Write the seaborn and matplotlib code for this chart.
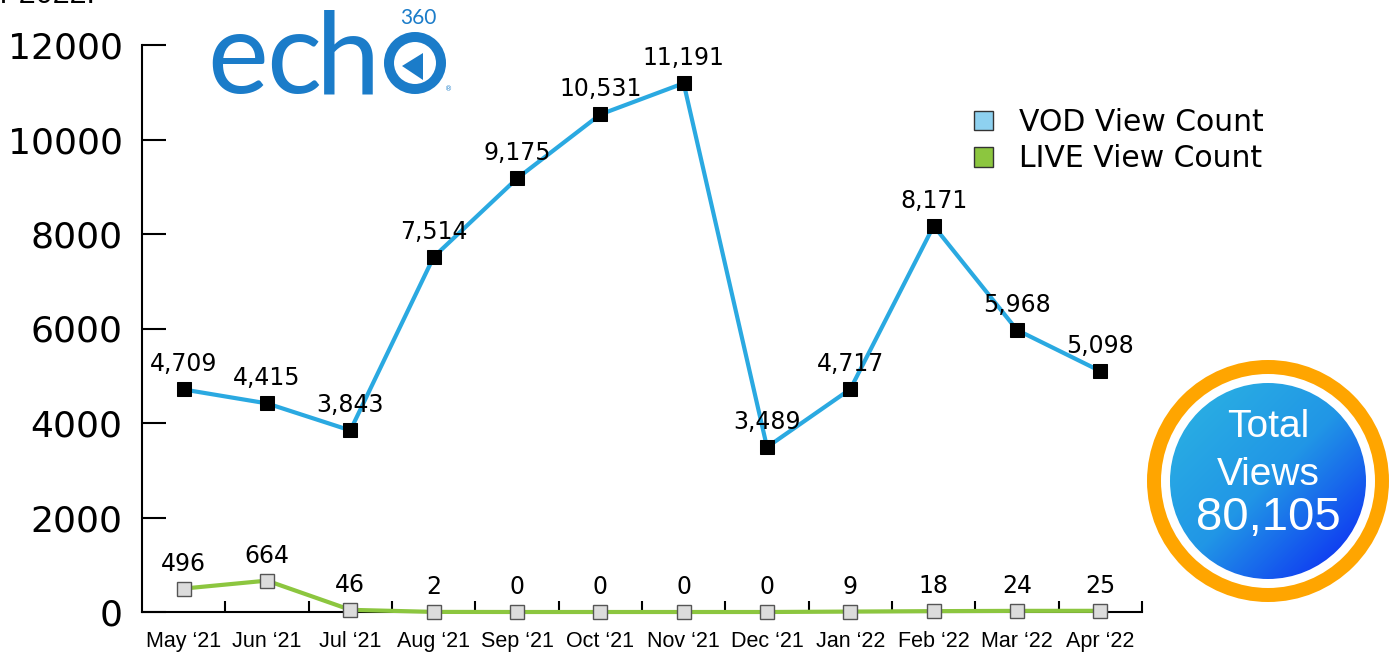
import numpy as np
import pandas as pd
import matplotlib.pyplot as plt
import seaborn as sns
from matplotlib.patches import Circle, Polygon, Patch
from matplotlib.colors import LinearSegmentedColormap

# monthly Echo360 view counts
months = ['May \u201821', 'Jun \u201821', 'Jul \u201821', 'Aug \u201821', 'Sep \u201821', 'Oct \u201821',
          'Nov \u201821', 'Dec \u201821', 'Jan \u201822', 'Feb \u201822', 'Mar \u201822', 'Apr \u201822']
vod = [4709, 4415, 3843, 7514, 9175, 10531, 11191, 3489, 4717, 8171, 5968, 5098]
live = [496, 664, 46, 2, 0, 0, 0, 0, 9, 18, 24, 25]
y_ticks = [0, 2000, 4000, 6000, 8000, 10000, 12000]
total_views = '80,105'

df = pd.DataFrame({'month': months, 'vod': vod, 'live': live})

sns.set_style('ticks')
plt.rcParams['font.family'] = ['DejaVu Sans']
plt.rcParams['text.color'] = 'black'
plt.rcParams['xtick.labelcolor'] = 'black'
plt.rcParams['ytick.labelcolor'] = 'black'

VOD_LINE = '#2aa9e1'
LIVE_LINE = '#8cc63f'
LOGO = '#1b7cc9'

W, H = 1395, 657
fig = plt.figure(figsize=(W / 100, H / 100), dpi=100)
ax = fig.add_axes([142 / W, 1 - 612 / H, 1000 / W, 567 / H])

sns.lineplot(data=df, x='month', y='vod', ax=ax, sort=False, color=VOD_LINE, lw=3,
             marker='s', ms=10, mfc='black', mec='black', clip_on=False, zorder=3)
sns.lineplot(data=df, x='month', y='live', ax=ax, sort=False, color=LIVE_LINE, lw=3,
             marker='s', ms=10, mfc='#dcdcdc', mec='#555555', mew=1, clip_on=False, zorder=3)

for i, v in enumerate(vod):
    ax.annotate(f'{v:,}', (i, v), xytext=(0, 18), textcoords='offset points',
                ha='center', va='center', fontsize=17, color='black')
for i, v in enumerate(live):
    ax.annotate(f'{v:,}', (i, v), xytext=(0, 18), textcoords='offset points',
                ha='center', va='center', fontsize=17, color='black')

ax.set_xlim(-0.5, 11.5)
ax.set_ylim(0, 12000)
ax.set_yticks(y_ticks)
ax.set_yticklabels([str(t) for t in y_ticks])
ax.set_xlabel('')
ax.set_ylabel('')
ax.set_xticks(np.arange(0.5, 12, 1), minor=True)
ax.tick_params(axis='x', which='major', length=0, pad=14, labelsize=15.5, labelfontfamily='Liberation Sans')
ax.tick_params(axis='x', which='minor', direction='in', length=8, width=1.5, color='black')
ax.tick_params(axis='y', direction='in', length=17, width=1.5, color='black', pad=14, labelsize=26)
sns.despine(ax=ax)
for s in ['left', 'bottom']:
    ax.spines[s].set_linewidth(1.5)
    ax.spines[s].set_color('black')

handles = [Patch(facecolor='#8ed1f0', edgecolor='#333333', label='VOD View Count'),
           Patch(facecolor='#8cc63f', edgecolor='#333333', label='LIVE View Count')]
fig.legend(handles=handles, loc='upper left', bbox_to_anchor=(974 / W, 1 - 108 / H),
           bbox_transform=fig.transFigure, frameon=False, fontsize=21.5, borderpad=0,
           borderaxespad=0, handlelength=0.62, handleheight=0.62, handletextpad=0.9,
           labelspacing=0.25)

# overlay in pixel coordinates for logo and badge
ov = fig.add_axes([0, 0, 1, 1], zorder=5)
ov.set_xlim(0, W)
ov.set_ylim(H, 0)
ov.axis('off')

# cut-off text at the very top
ov.text(0, 3, 'r 2022.', fontsize=22, fontfamily='Liberation Sans', va='baseline', ha='left')

# echo360 logo
for ch, cx in zip('ech', [237.5, 293.5, 348.5]):
    ov.text(cx, 93, ch, fontfamily='Lato', fontsize=83, color=LOGO, ha='center', va='baseline')
ov.add_patch(Circle((415, 63), 26, fill=False, lw=7.2, ec=LOGO))
ov.add_patch(Polygon([(402, 66), (423, 53), (423, 80)], closed=True, fc=LOGO, ec='none'))
ov.text(418, 24, '360', fontfamily='Lato', fontsize=15, color=LOGO, ha='center', va='baseline')
ov.text(449, 91, '\u00ae', fontsize=5, color=LOGO, ha='center', va='baseline')

# total views badge
cx, cy = 1268, 481
ov.add_patch(Circle((cx, cy), 121, fc='#ffa500', ec='none', zorder=1))
ov.add_patch(Circle((cx, cy), 107, fc='white', ec='none', zorder=2))
n = 200
g = np.add.outer(np.arange(n), np.arange(n)) / (2 * (n - 1))
cmap = LinearSegmentedColormap.from_list('badge', ['#2cb4e2', '#2196e6', '#0a1ff5'])
im = ov.imshow(g, cmap=cmap, extent=(cx - 98, cx + 98, cy + 98, cy - 98), origin='upper',
               aspect='auto', interpolation='bilinear', zorder=3)
clip = Circle((cx, cy), 98, transform=ov.transData)
im.set_clip_path(clip)
ov.set_xlim(0, W)
ov.set_ylim(H, 0)
ov.text(cx, 437, 'Total', color='white', fontsize=28, fontfamily='Liberation Sans',
        ha='center', va='baseline', zorder=4)
ov.text(cx, 485, 'Views', color='white', fontsize=28, fontfamily='Liberation Sans',
        ha='center', va='baseline', zorder=4)
ov.text(cx, 530, total_views, color='white', fontsize=34, fontfamily='Liberation Sans',
        ha='center', va='baseline', zorder=4)

fig.savefig('out.png', dpi=100, facecolor='white')
